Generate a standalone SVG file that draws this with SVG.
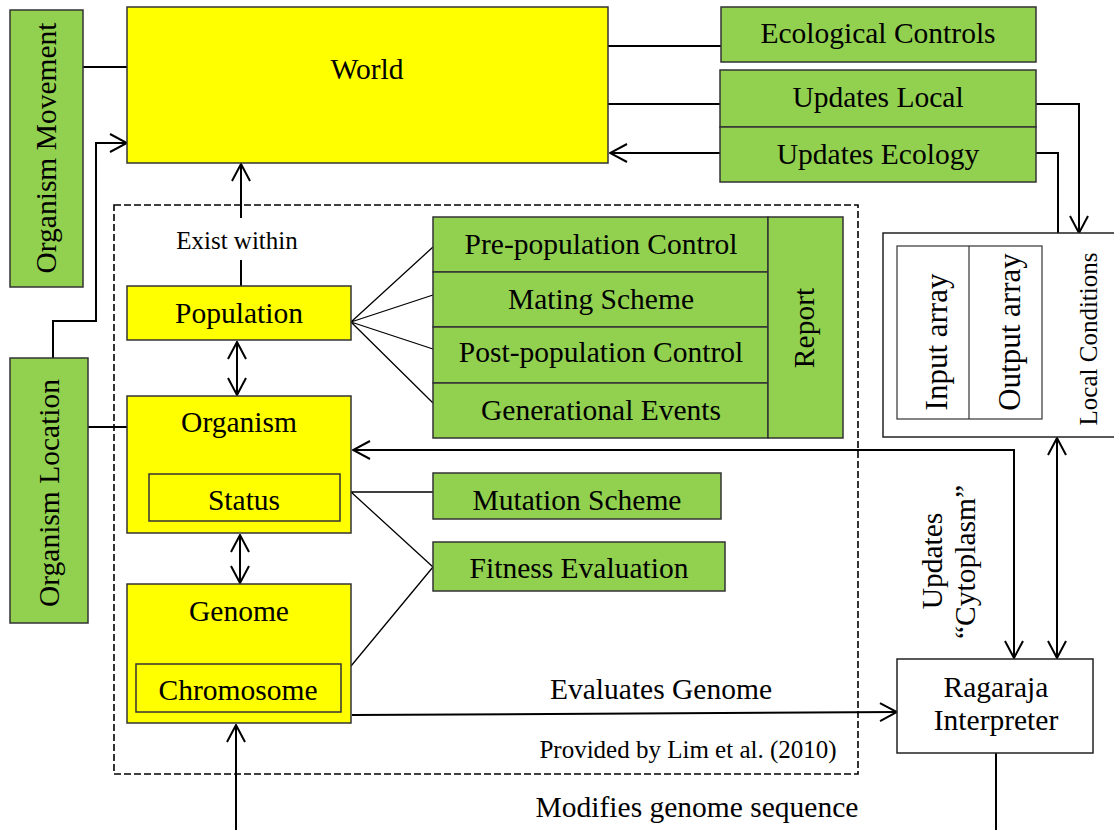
<svg xmlns="http://www.w3.org/2000/svg" width="1114" height="830" viewBox="0 0 1114 830">
<style>
text{font-family:"Liberation Serif","Times New Roman",serif;font-size:29.5px;fill:#000;text-anchor:middle}
.y{fill:#FFFF00;stroke:#333;stroke-width:1.5}
.g{fill:#92D050;stroke:#333;stroke-width:1.5}
.w{fill:#fff;stroke:#222;stroke-width:1.5}
.c{fill:none;stroke:#000;stroke-width:2}
.t{fill:none;stroke:#000;stroke-width:1.3}
.s{font-size:25px}
</style>
<defs>
<marker id="a" viewBox="0 0 20 20" refX="19" refY="10" markerWidth="20" markerHeight="20" markerUnits="userSpaceOnUse" orient="auto-start-reverse">
<path d="M2,1 L19,10 L2,19" fill="none" stroke="#000" stroke-width="2"/>
</marker>
</defs>
<rect width="1114" height="830" fill="#fff"/>
<rect x="114" y="205" width="744" height="569" fill="none" stroke="#000" stroke-width="1.6" stroke-dasharray="7 3"/>
<g id="connectors">
<path class="c" d="M83,67 H127"/>
<path class="c" d="M53,358 V321 H96 V143 H127" marker-end="url(#a)"/>
<path class="c" d="M88,427 H129"/>
<path class="c" d="M608,46 H721"/>
<path class="c" d="M608,104 H720"/>
<path class="c" d="M720,153 H610" marker-end="url(#a)"/>
<path class="c" d="M1036,104 H1079 V233" marker-end="url(#a)"/>
<path class="c" d="M1036,153 H1058 V233"/>
<path class="c" d="M241,218 V164" marker-end="url(#a)"/>
<path class="c" d="M241,260 V286"/>
<path class="c" d="M237,342 V395" marker-start="url(#a)" marker-end="url(#a)"/>
<path class="c" d="M240,535 V583" marker-start="url(#a)" marker-end="url(#a)"/>
<path class="t" d="M351,322 L433,247 M351,322 L433,295 M351,322 L433,349 M351,322 L433,403"/>
<path class="t" d="M351,492 H433 M351,492 L433,567 M351,666 L433,567"/>
<path class="c" d="M1014,658 V450 H353" marker-start="url(#a)" marker-end="url(#a)"/>
<path class="c" d="M1057,438 V658" marker-start="url(#a)" marker-end="url(#a)"/>
<path class="c" d="M352,715 L897,712" marker-end="url(#a)"/>
<path class="c" d="M236,830 V725" marker-end="url(#a)"/>
<path class="c" d="M996,753 V830"/>
</g>
<g id="organism-movement"><rect class="g" x="10" y="10" width="73" height="277"/><text transform="translate(46,148) rotate(-90)" y="10">Organism Movement</text></g>
<g id="world"><rect class="y" x="127" y="7" width="481" height="156"/><text x="367" y="79">World</text></g>
<g id="ecological-controls"><rect class="g" x="721" y="7" width="315" height="55"/><text x="878" y="43">Ecological Controls</text></g>
<g id="updates-local"><rect class="g" x="720" y="70" width="316" height="57"/><text x="878" y="107">Updates Local</text></g>
<g id="updates-ecology"><rect class="g" x="720" y="127" width="316" height="55"/><text x="878" y="164">Updates Ecology</text></g>
<g id="local-conditions"><rect class="w" x="883" y="233" width="240" height="204"/><rect fill="none" stroke="#333" stroke-width="1.2" x="897" y="246" width="145" height="173"/><path d="M969,246 V419" stroke="#333" stroke-width="1.2"/>
<text transform="translate(933,342) rotate(-90)" y="14" style="font-size:31px">Input array</text>
<text transform="translate(1007,332) rotate(-90)" y="13" style="font-size:31px">Output array</text>
<text class="s" transform="translate(1089,339) rotate(-90)" y="8">Local Conditions</text></g>
<g id="population"><rect class="y" x="127" y="286" width="224" height="54"/><text x="239" y="323">Population</text></g>
<g id="organism"><rect class="y" x="127" y="396" width="224" height="137"/><text x="239" y="432">Organism</text></g>
<g id="status"><rect class="y" x="149" y="474" width="191" height="47"/><text x="244" y="510">Status</text></g>
<g id="genome"><rect class="y" x="127" y="584" width="224" height="139"/><text x="239" y="621">Genome</text></g>
<g id="chromosome"><rect class="y" x="136" y="664" width="205" height="48"/><text x="238" y="700">Chromosome</text></g>
<g id="organism-location"><rect class="g" x="10" y="358" width="78" height="265"/><text transform="translate(49,493) rotate(-90)" y="10">Organism Location</text></g>
<g id="pre-population"><rect class="g" x="433" y="217" width="335" height="55"/><text x="601" y="254">Pre-population Control</text></g>
<g id="mating"><rect class="g" x="433" y="272" width="335" height="55"/><text x="601" y="309">Mating Scheme</text></g>
<g id="post-population"><rect class="g" x="433" y="327" width="335" height="56"/><text x="601" y="362">Post-population Control</text></g>
<g id="generational"><rect class="g" x="433" y="383" width="335" height="55"/><text x="601" y="420">Generational Events</text></g>
<g id="report"><rect class="g" x="768" y="217" width="75" height="221"/><text transform="translate(805,328) rotate(-90)" y="9">Report</text></g>
<g id="mutation"><rect class="g" x="433" y="473" width="288" height="46"/><text x="577" y="510">Mutation Scheme</text></g>
<g id="fitness"><rect class="g" x="433" y="542" width="292" height="49"/><text x="579" y="578">Fitness Evaluation</text></g>
<g id="ragaraja"><rect class="w" x="897" y="659" width="196" height="94"/><text x="996" y="697">Ragaraja</text><text x="996" y="730">Interpreter</text></g>
<g id="labels">
<text x="237" y="249" style="font-size:25px">Exist within</text>
<text x="661" y="699">Evaluates Genome</text>
<text x="688" y="758" style="font-size:25px">Provided by Lim et al. (2010)</text>
<text x="697" y="817">Modifies genome sequence</text>
<text transform="translate(932,561) rotate(-90)" y="10">Updates</text>
<text transform="translate(965,562) rotate(-90)" y="10">“Cytoplasm”</text>
</g>
</svg>
